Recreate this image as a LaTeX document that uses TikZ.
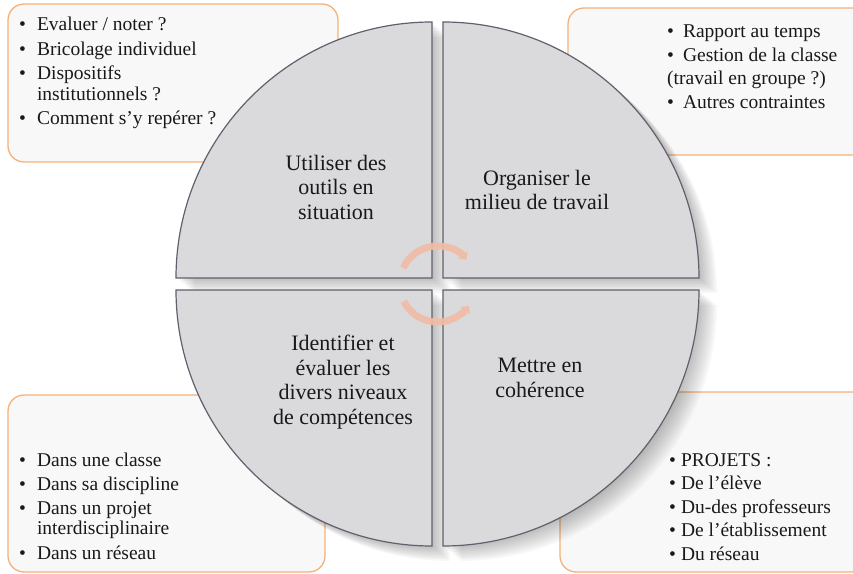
\documentclass[tikz,border=0pt]{standalone}
\usepackage{fontspec}
\setmainfont{Liberation Serif}
\usetikzlibrary{arrows.meta}
\definecolor{boxline}{RGB}{244,177,120}
\definecolor{boxfill}{RGB}{248,248,248}
\definecolor{quadfill}{RGB}{218,218,220}
\definecolor{quadline}{RGB}{96,96,110}
\definecolor{cyclecol}{RGB}{242,188,165}
\definecolor{txt}{RGB}{25,25,25}
\newcommand\quadTL{(432,295) -- (432,551) arc[start angle=90,end angle=180,radius=256] -- cycle}
\newcommand\quadTR{(443,295) -- (699,295) arc[start angle=0,end angle=90,radius=256] -- cycle}
\newcommand\quadBL{(432,283) -- (176,283) arc[start angle=180,end angle=270,radius=256] -- cycle}
\newcommand\quadBR{(443,283) -- (443,27) arc[start angle=270,end angle=360,radius=256] -- cycle}
\begin{document}
\begin{tikzpicture}[x=1pt,y=1pt,
  infobox/.style={draw=boxline, line width=1.3pt, fill=boxfill, rounded corners=16pt},
  quad/.style={draw=quadline, line width=1.2pt, fill=quadfill},
  quadshadow/.style={fill=black, opacity=0.028},
  quadtext/.style={align=center, font=\fontsize{22}{24.5}\selectfont, text=txt},
  listtext/.style={font=\fontsize{19.5}{20.5}\selectfont, anchor=base west, inner sep=0pt, text=txt},
  cyclearrow/.style={draw=cyclecol, line width=7pt, opacity=0.9, -{Triangle[width=12pt,length=6pt]}}
]
\useasboundingbox (0,0) rectangle (853,573);

% corner boxes
\path[infobox] (8,411) rectangle (338,569);
\path[infobox] (568,418) rectangle (870,565);
\path[infobox] (8,1) rectangle (325,178);
\path[infobox] (560,1) rectangle (870,181);

% shadow of the circle
\foreach \k in {1,...,10} {
  \begin{scope}[shift={(1.8*\k,-1.5*\k)}]
    \path[quadshadow] \quadTL;
    \path[quadshadow] \quadTR;
    \path[quadshadow] \quadBL;
    \path[quadshadow] \quadBR;
  \end{scope}
}

% quadrants
\path[quad] \quadTL;
\path[quad] \quadTR;
\path[quad] \quadBL;
\path[quad] \quadBR;

% quadrant texts
\node[quadtext] (tTL) at (336,386) {Utiliser des\\outils en\\situation};
\node[quadtext] (tTR) at (537,383) {Organiser le\\milieu de travail};
\node[quadtext] (tBL) at (343,191) {Identifier et\\évaluer les\\divers niveaux\\de compétences};
\node[quadtext] (tBR) at (540,195) {Mettre en\\cohérence};

% centre cycle arrows
\coordinate (cc) at (437.5,289);
\draw[cyclearrow] (cc) ++(155:38) arc[start angle=155,end angle=40,radius=38];
\draw[cyclearrow] (cc) ++(207:38) arc[start angle=207,end angle=325,radius=38];

% lists
\node[listtext] (lTL) at (19,542) {\begin{tabular}[t]{@{}l@{\hspace{11pt}}l@{}}
\textbullet & Evaluer / noter ?\\[4pt]
\textbullet & Bricolage individuel\\[4pt]
\textbullet & Dispositifs\\
 & institutionnels ?\\[4pt]
\textbullet & Comment s’y repérer ?
\end{tabular}};

\node[listtext] (lTR) at (667,535) {\begin{tabular}[t]{@{}l@{\hspace{9pt}}l@{}}
\textbullet & Rapport au temps\\[3pt]
\textbullet & Gestion de la classe\\[3pt]
\multicolumn{2}{@{}l@{}}{(travail en groupe ?)}\\[3pt]
\textbullet & Autres contraintes
\end{tabular}};

\node[listtext] (lBL) at (19,107) {\begin{tabular}[t]{@{}l@{\hspace{11pt}}l@{}}
\textbullet & Dans une classe\\[4pt]
\textbullet & Dans sa discipline\\[3pt]
\textbullet & Dans un projet\\
 & interdisciplinaire\\[4pt]
\textbullet & Dans un réseau
\end{tabular}};

\node[listtext] (lBR) at (669,107) {\begin{tabular}[t]{@{}l@{\hspace{5pt}}l@{}}
\textbullet & PROJETS :\\[3pt]
\textbullet & De l’élève\\[3pt]
\textbullet & Du-des professeurs\\[3pt]
\textbullet & De l’établissement\\[3pt]
\textbullet & Du réseau
\end{tabular}};
\end{tikzpicture}
\end{document}
